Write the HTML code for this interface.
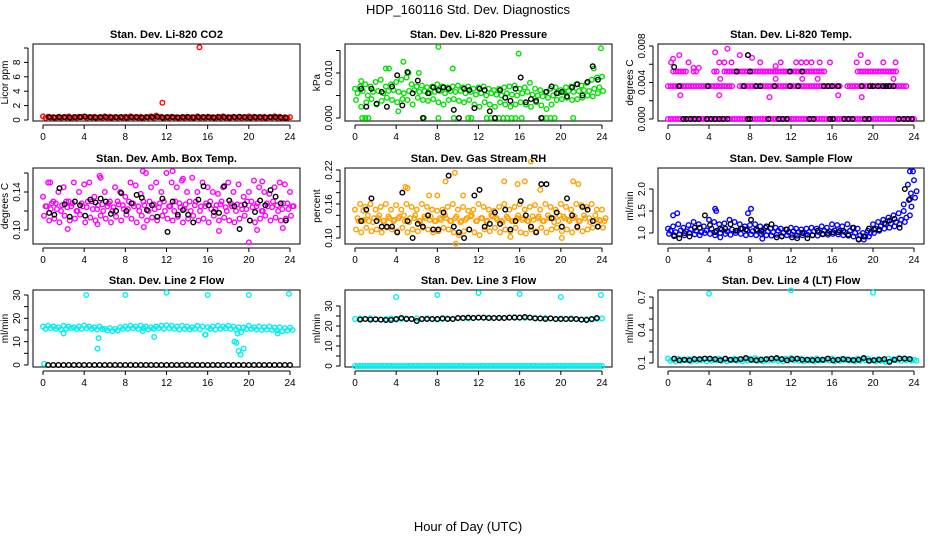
<!DOCTYPE html>
<html><head><meta charset="utf-8"><style>
body{margin:0;background:#fff;}
svg{display:block;font-family:"Liberation Sans",sans-serif;}
</style></head><body>
<svg id="c" width="936" height="540" viewBox="0 0 936 540">
<rect width="936" height="540" fill="#fff"/>
<text x="468" y="14" text-anchor="middle" font-size="13">HDP_160116  Std. Dev. Diagnostics</text>
<text x="468" y="531" text-anchor="middle" font-size="13">Hour of Day (UTC)</text>
</svg>
<script>
// ---------- data ----------
// CO2 panel
const co2RedA=[0.5,0.45,0.4,0.45,0.4,0.5,0.4,0.45,0.5,0.4,0.45,0.4,0.5,0.45,0.4,0.4,0.45,0.5,0.4,0.45,0.4,0.5,0.6,0.45,0.4,0.45,0.4,0.4,0.45,0.4,0.5,0.4,0.45,0.4,0.45,0.5,0.4,0.45,0.4,0.4,0.5,0.45,0.4,0.45,0.4,0.5,0.45,0.4,0.4];
const co2RedB=[0.3,0.35,0.3,0.3,0.35,0.3,0.3,0.4,0.3,0.35,0.3,0.3,0.3,0.35,0.3,0.3,0.3,0.35,0.3,0.3,0.35,0.3,0.4,0.3,0.3,0.35,0.3,0.3,0.3,0.35,0.3,0.3,0.35,0.3,0.3,0.3,0.35,0.3,0.3,0.3,0.35,0.3,0.3,0.3,0.35,0.3,0.3,0.3];
const co2OutHours=[11.6,15.2];
const co2OutVals=[2.4,10.1];
const co2Black=[0.4,0.35,0.4,0.4,0.35,0.4,0.4,0.45,0.4,0.35,0.4,0.4,0.35,0.4,0.4,0.35,0.4,0.4,0.35,0.4,0.4,0.45,0.35,0.4,0.4,0.35,0.4,0.4,0.35,0.4,0.4,0.4,0.35,0.4,0.4,0.35,0.4,0.45,0.4,0.35,0.4,0.4,0.35,0.4,0.4,0.35,0.3];
// Pressure panel
const presA=[0.0065,0.007,0.0075,0.007,0.008,0.0085,0.007,0.0075,0.008,0.0085,0.009,0.0075,0.007,0.0072,0.0068,0.007,0.0075,0.007,0.0068,0.007,0.0072,0.0068,0.007,0.0065,0.0068,0.007,0.0065,0.0062,0.0065,0.0068,0.007,0.0072,0.0065,0.0068,0.0078,0.0065,0.0062,0.0058,0.0065,0.0068,0.0062,0.0068,0.007,0.0075,0.0072,0.0078,0.0085,0.009,0.0092];
const presB=[0.0055,0.006,0.005,0.0058,0.006,0.0055,0.006,0.0062,0.0058,0.0055,0.006,0.0062,0.0058,0.006,0.0055,0.0058,0.006,0.0055,0.006,0.0058,0.006,0.0055,0.0058,0.0052,0.0055,0.005,0.0055,0.0052,0.005,0.0055,0.0052,0.005,0.0055,0.0058,0.0052,0.005,0.0048,0.0045,0.005,0.0055,0.0058,0.006,0.0058,0.006,0.0062,0.006,0.0065,0.0068];
const presC=[0.004,0.0025,0.0035,0.0042,0.003,0.0038,0.0045,0.004,0.0035,0.0042,0.004,0.003,0.0045,0.004,0.0038,0.0042,0.0035,0.003,0.004,0.0042,0.0038,0.0035,0.004,0.003,0.0025,0.0035,0.003,0.0025,0.0035,0.003,0.0025,0.003,0.0035,0.003,0.0025,0.0035,0.0028,0.002,0.003,0.004,0.0042,0.0045,0.004,0.0042,0.0045,0.005,0.0048,0.0055,0.006];
const presZeroHours=[0.7,1.0,1.3,6.7,8.1,9.6,11.0,11.3,12.8,13.2,13.6,14.0,14.4,14.8,15.2,15.6,16.2,18.2,18.6,19.0,19.4,21.2];
const presOutHours=[4.7,3.0,3.3,8.1,9.5,15.9,23.9,23.2,6.2,5.2,0.6,4.2];
const presOutVals=[0.0125,0.011,0.011,0.0158,0.011,0.0143,0.0155,0.011,0.0100,0.0100,0.0082,0.0015];
const presBlack=[0.0065,0.0025,0.0065,0.0032,0.0058,0.0025,0.007,0.0095,0.0028,0.0102,0.0055,0.0083,0,0.0055,0.0068,0.0062,0.0068,0.0065,0.0018,0,0.0065,0.0062,0.0022,0.0065,0.0062,0.0015,0,0.0062,0.0045,0.0038,0.0065,0.009,0.0035,0.0042,0.0038,0,0.0058,0.007,0.0055,0.0058,0.0048,0.0068,0.0075,0.005,0.008,0.0115,0.0085];
// Li-820 temp panel
const tmpZero=[0,0,0,0,0,0,0,0,0,0,0,0,0,0,0,0,0,0,0,0,0,0,0,0,0,0,0,0,0,0,0,0,0,0,0,0,0,0,0,0,0,0,0,0,0,0,0,0,0];
const tmpMid=[0.0036,0.0036,0.0036,0.0036,0.0036,0.0036,0.0036,0.0036,0.0036,0.0036,0.0036,0.0036,0.0036,null,0.0036,0.0036,0.0036,0.0036,0.0036,0.0036,0.0036,0.0036,0.0036,0.0036,0.0036,0.0036,0.0036,0.0036,0.0036,0.0036,0.0036,0.0036,0.0036,0.0036,null,0.0036,0.0036,0.0036,0.0036,0.0036,0.0036,0.0036,0.0036,0.0036,0.0036,0.0036,0.0036,null,null];
const tmpHigh=[null,0.0052,0.0052,0.0052,null,0.0052,null,null,null,0.0052,null,0.0052,0.0052,0.0052,0.0052,0.0052,0.0052,0.0052,0.0052,0.0052,0.0052,0.0052,0.0052,0.0052,0.0052,0.0052,0.0052,0.0052,0.0052,0.0052,0.0052,null,null,null,null,null,null,0.0052,0.0052,0.0052,0.0052,0.0052,0.0052,0.0052,0.0052,null,null,null,null];
const tmpOutHours=[0.3,0.5,1.1,2.0,2.5,3.0,4.6,5.0,5.5,5.8,6.2,7.0,7.8,8.2,9.0,10.5,11.0,12.5,13.0,13.5,14.0,14.8,15.8,18.4,18.8,19.5,21.0,22.2,1.2,5.0,9.9,16.6,18.9,5.1,10.5,13.1,14.6,22.0];
const tmpOutVals=[0.0062,0.0066,0.0070,0.0062,0.0056,0.0056,0.0073,0.0062,0.0062,0.0077,0.0062,0.0070,0.0070,0.0067,0.0062,0.0058,0.0062,0.0062,0.0062,0.0062,0.0062,0.0062,0.0062,0.0062,0.0070,0.0062,0.0062,0.0062,0.0026,0.0026,0.0024,0.0026,0.0024,0.0044,0.0044,0.0044,0.0044,0.0044];
const tmpBlackHours=[1.5,1.8,2.2,2.6,3.0,3.8,4.2,4.6,5.0,5.4,5.8,7.8,8.0,9.8,10.8,11.2,11.6,13.8,14.2,15.8,16.1,17.2,17.6,18.0,19.2,19.6,22.5,23.0,23.4,23.8,1.1,3.9,7.4,8.6,9.0,10.4,11.9,12.7,15.2,15.6,16.0,16.6,18.9,19.7,20.0,20.5,21.0,21.3,21.6,22.0,6.7,8.0,11.9,13.1,0.6,7.8];
const tmpBlackVals=[0,0,0,0,0,0,0,0,0,0,0,0,0,0,0,0,0,0,0,0,0,0,0,0,0,0,0,0,0,0,0.0036,0.0036,0.0036,0.0036,0.0036,0.0036,0.0036,0.0036,0.0036,0.0036,0.0036,0.0036,0.0036,0.0036,0.0036,0.0036,0.0036,0.0036,0.0036,0.0036,0.0052,0.0052,0.0052,0.0052,0.0057,0.0070];
// Amb box temp panel
const boxA=[0.135,0.15,0.13,0.14,0.145,0.13,0.15,0.14,0.148,0.15,0.135,0.157,0.14,0.13,0.145,0.14,0.135,0.15,0.147,0.138,0.16,0.145,0.15,0.14,0.16,0.15,0.145,0.152,0.14,0.155,0.14,0.15,0.145,0.14,0.138,0.145,0.15,0.14,0.148,0.135,0.14,0.152,0.145,0.14,0.138,0.145,0.15,0.148,0.14];
const boxB=[0.125,0.122,0.128,0.12,0.13,0.125,0.12,0.128,0.124,0.13,0.122,0.127,0.125,0.12,0.13,0.126,0.122,0.128,0.125,0.13,0.12,0.127,0.124,0.13,0.125,0.12,0.128,0.122,0.13,0.126,0.12,0.125,0.13,0.122,0.127,0.124,0.128,0.12,0.126,0.122,0.13,0.125,0.12,0.128,0.124,0.126,0.122,0.128,0.125];
const boxC=[0.115,0.11,0.112,0.108,0.115,0.11,0.112,0.116,0.108,0.113,0.11,0.115,0.112,0.108,0.114,0.11,0.116,0.112,0.108,0.115,0.11,0.113,0.11,0.115,0.112,0.11,0.114,0.108,0.112,0.115,0.11,0.112,0.108,0.115,0.11,0.113,0.11,0.108,0.112,0.115,0.11,0.108,0.112,0.115,0.11,0.113,0.11,0.112,0.115];
const boxOutHours=[2.4,5.3,9.8,12.6,9.7,20.0,17.1,20.8,23.3,13.6,5.6,0.7,21.3];
const boxOutVals=[0.101,0.106,0.103,0.162,0.162,0.087,0.099,0.100,0.102,0.154,0.155,0.150,0.151];
const boxBlack=[0.118,0.116,0.144,0.127,0.114,0.130,0.126,0.115,0.132,0.129,0.133,0.130,0.117,0.120,0.139,0.120,0.128,0.137,0.134,0.121,0.126,0.114,0.133,0.098,0.130,0.116,0.121,0.116,0.108,0.132,0.146,0.126,0.119,0.118,0.146,0.131,0.125,0.101,0.127,0.110,0.119,0.131,0.126,0.142,0.135,0.128,0.110];
// Gas stream RH panel
const rhA=[0.15,0.16,0.155,0.16,0.15,0.155,0.16,0.15,0.158,0.15,0.16,0.155,0.15,0.16,0.155,0.15,0.148,0.15,0.155,0.16,0.15,0.155,0.148,0.15,0.16,0.155,0.15,0.148,0.155,0.16,0.15,0.155,0.16,0.15,0.155,0.158,0.15,0.16,0.155,0.15,0.16,0.155,0.15,0.16,0.158,0.155,0.16,0.15,0.15];
const rhB=[0.135,0.13,0.14,0.128,0.135,0.13,0.138,0.13,0.135,0.14,0.128,0.135,0.13,0.138,0.132,0.13,0.135,0.14,0.13,0.135,0.128,0.132,0.138,0.13,0.135,0.13,0.14,0.135,0.13,0.138,0.13,0.135,0.132,0.13,0.138,0.135,0.13,0.14,0.135,0.13,0.138,0.132,0.135,0.13,0.14,0.135,0.13,0.132,0.13];
const rhC=[0.115,0.11,0.118,0.112,0.115,0.11,0.118,0.115,0.112,0.118,0.11,0.115,0.112,0.118,0.115,0.11,0.112,0.118,0.115,0.11,0.105,0.112,0.115,0.11,0.105,0.115,0.112,0.118,0.11,0.115,0.112,0.118,0.11,0.108,0.115,0.112,0.118,0.11,0.115,0.118,0.112,0.115,0.11,0.118,0.112,0.115,0.118,0.12,0.118];
const rhOutHours=[17.1,9.7,8.8,4.9,5.1,18.0,21.2,21.7,14.5,15.8,16.5,8.0,10.5,1.5,0.8,9.8,20.1,15.1,7.2];
const rhOutVals=[0.235,0.215,0.200,0.190,0.188,0.185,0.200,0.195,0.200,0.195,0.200,0.175,0.175,0.160,0.148,0.090,0.100,0.102,0.175];
const rhBlack=[0.13,0.15,0.17,0.13,0.12,0.12,0.12,0.11,0.18,0.13,0.10,0.125,0.12,0.14,0.115,0.115,0.145,0.21,0.12,0.11,0.10,0.115,0.175,0.185,0.12,0.125,0.145,0.125,0.15,0.115,0.13,0.165,0.14,0.12,0.11,0.195,0.195,0.135,0.145,0.12,0.17,0.14,0.12,0.155,0.15,0.13,0.12];
// Sample flow panel
const flowA=[1.1,1.15,1.2,1.12,1.18,1.25,1.2,1.15,1.3,1.25,1.2,1.22,1.3,1.25,1.2,1.15,1.18,1.2,1.15,1.12,1.1,1.12,1.1,1.08,1.12,1.1,1.08,1.1,1.12,1.1,1.15,1.12,1.2,1.18,1.15,1.2,1.12,1.1,1.0,1.05,1.2,1.25,1.3,1.35,1.4,1.45,1.5,1.75,2.2];
const flowB=[1.05,1.02,1.06,1.04,1.08,1.05,1.02,1.06,1.1,1.05,1.08,1.04,1.08,1.05,1.1,1.06,1.04,1.06,1.02,1.04,1.02,1.05,1.0,1.02,1.04,1.02,1.0,1.02,1.04,1.02,1.05,1.04,1.06,1.05,1.02,1.05,1.0,0.95,0.92,1.0,1.1,1.15,1.2,1.22,1.25,1.3,1.35,1.6,1.95];
const flowC=[0.98,0.95,0.97,0.95,1.0,0.97,0.95,1.0,0.98,0.95,1.0,0.98,0.96,1.0,0.98,0.95,0.97,0.95,0.98,0.95,0.94,0.96,0.93,0.95,0.96,0.94,0.95,0.96,0.95,0.94,0.97,0.96,0.98,0.97,0.95,0.97,0.92,0.86,0.85,0.92,1.0,1.05,1.1,1.12,1.15,1.2,1.25,1.4,1.8];
const flowOutHours=[0.5,0.9,4.6,4.7,7.8,8.1,23.6,23.9,23.4,23.7,9.2,5.1,23.0];
const flowOutVals=[1.40,1.45,1.55,1.50,1.45,1.55,2.40,2.40,2.10,1.90,0.87,0.90,1.65];
const flowBlack=[0.93,0.88,1.0,0.92,1.12,1.12,1.40,1.18,1.02,1.10,1.10,1.20,1.05,1.10,1.08,1.30,1.08,1.05,1.15,1.20,0.90,0.92,1.08,0.90,0.88,1.00,0.88,0.95,1.05,0.98,1.00,1.02,1.02,1.05,0.94,1.12,0.85,0.92,1.10,1.08,1.08,1.22,1.28,1.32,1.12,2.00,1.77];
// Line 2 flow panel
const l2A=[16.5,16.8,16.5,16.2,16.8,16.5,16.2,16.5,17,16.5,16.2,16.5,15.5,15.8,15.5,16.2,16.5,16.8,16.5,16.8,16.5,16.2,16.5,16.8,17,16.8,16.5,16.8,16.5,16.2,16.8,16.5,16.2,16.5,16.8,16.5,16.8,16.5,16.2,16,16.8,16.2,16.5,16.2,16.5,16,16.2,15.8,16];
const l2B=[15.5,15.8,15.5,15.2,15.5,15.8,15.5,15.5,15.8,15.5,15.2,15.5,14.8,14.5,14.8,15.5,15.5,15.8,15.5,15.8,15.2,15.5,15.8,15.5,15.8,15.5,15.2,15.5,15.2,15.5,15.2,13,15.5,15.2,15.5,15.8,15.5,15.2,14,15.5,15.5,15.2,15,15.2,15,14.8,14.5,14.8,15];
const l2OutHours=[4.2,5.3,5.4,8.0,10.8,12.0,16.0,15.8,18.6,18.8,19.0,19.2,19.5,18.9,20.0,23.9,0.1,2.0,9.7,22.8];
const l2OutVals=[30,7,11.5,30,12,31,30,13,10,9.5,6,4.5,7,13.5,30,30.5,0.5,13.5,14.5,13.5];
const l2Black=[0,0,0,0,0,0,0,0,0,0,0,0,0,0,0,0,0,0,0,0,0,0,0,0,0,0,0,0,0,0,0,0,0,0,0,0,0,0,0,0,0,0,0,0,0,0,0,0];
// Line 3 flow panel
const l3Zero=[0,0,0,0,0,0,0,0,0,0,0,0,0,0,0,0,0,0,0,0,0,0,0,0,0,0,0,0,0,0,0,0,0,0,0,0,0,0,0,0,0,0,0,0,0,0,0,0,0];
const l3Cyan=[23.5,23.8,23.5,23.8,23.5,23.2,23.5,23.8,23.2,23.5,23.8,23.5,23.8,23.5,23.8,23.5,23.2,23.5,23.8,23.5,23.8,24,23.8,24,24.2,24,24.2,24,24.2,24,24.2,24.5,24.2,24,24.2,24,23.8,24,23.8,23.5,23.8,23.5,23.8,23.5,23.2,23.5,23.2,23.5,23.8];
const l3OutHours=[4.0,8.0,12.0,16.0,20.0,23.9];
const l3OutVals=[34.5,35.5,36.5,36,34.5,35.5];
const l3Black=[23.2,23.5,23.2,23.3,23.2,23,23,23.5,24,23.5,23.5,22.5,23.5,23.5,23.5,23.5,23.8,23.5,23.5,24,24,24.2,24,24.2,24.2,24,24,24,24,24.2,24.2,24.2,24.5,24.2,23.8,23.8,23.5,23.8,23.5,23.5,23.5,23.5,23.5,23.2,23,23.5,24];
// Line 4 flow panel
const l4A=[0.14,0.13,0.14,0.13,0.135,0.14,0.13,0.14,0.135,0.13,0.14,0.135,0.13,0.14,0.135,0.13,0.14,0.145,0.135,0.13,0.14,0.135,0.13,0.14,0.145,0.135,0.14,0.13,0.135,0.14,0.13,0.135,0.14,0.13,0.14,0.135,0.13,0.14,0.135,0.14,0.13,0.135,0.12,0.14,0.135,0.145,0.14,0.135,0.13];
const l4B=[0.12,0.115,0.12,0.125,0.115,0.12,0.125,0.115,0.12,0.125,0.12,0.115,0.125,0.12,0.115,0.12,0.125,0.12,0.115,0.12,0.125,0.12,0.115,0.12,0.125,0.12,0.115,0.12,0.115,0.12,0.125,0.12,0.115,0.12,0.125,0.12,0.115,0.12,0.125,0.12,0.115,0.12,0.11,0.12,0.125,0.12,0.125,0.12,0.12];
const l4OutHours=[4.0,12.0,20.0];
const l4OutVals=[0.73,0.76,0.74];
const l4Black=[0.14,0.125,0.13,0.125,0.135,0.135,0.14,0.14,0.135,0.125,0.14,0.13,0.13,0.135,0.145,0.13,0.125,0.13,0.135,0.14,0.145,0.135,0.125,0.135,0.14,0.13,0.13,0.125,0.13,0.13,0.14,0.125,0.13,0.135,0.13,0.125,0.13,0.145,0.12,0.125,0.13,0.135,0.11,0.13,0.14,0.14,0.135];
const hourTicks=[0,4,8,12,16,20,24];

// ---------- layout ----------
const NS='http://www.w3.org/2000/svg';
const svg=document.getElementById('c');
function el(tag,attrs,parent){const e=document.createElementNS(NS,tag);for(const k in attrs)e.setAttribute(k,attrs[k]);(parent||svg).appendChild(e);return e;}
const cols=[{bx0:33,bx1:300,t0:43,t24:290},{bx0:345,bx1:612,t0:355,t24:602},{bx0:658,bx1:924,t0:668,t24:914}];
const rows=[{by0:44,by1:121},{by0:168,by1:244},{by0:290,by1:367}];
const panels=[
 {key:'co2',title:'Stan. Dev. Li-820 CO2',ylab:'Licor ppm',c:0,r:0,v1:0,p1:120,v2:10,p2:48,ticks:[0,2,4,6,8,10],labels:['0','2','4','6','8','']},
 {key:'pressure',title:'Stan. Dev. Li-820 Pressure',ylab:'kPa',c:1,r:0,v1:0,p1:118,v2:0.010,p2:73,ticks:[0,0.005,0.010,0.015],labels:['0.000','','0.010','']},
 {key:'li820-temp',title:'Stan. Dev. Li-820 Temp.',ylab:'degrees C',c:2,r:0,v1:0,p1:119,v2:0.008,p2:46,ticks:[0,0.002,0.004,0.006,0.008],labels:['0.000','','0.004','','0.008']},
 {key:'box-temp',title:'Stan. Dev. Amb. Box Temp.',ylab:'degrees C',c:0,r:1,v1:0.10,p1:230,v2:0.14,p2:192,ticks:[0.10,0.12,0.14,0.16],labels:['0.10','','0.14','']},
 {key:'rh',title:'Stan. Dev. Gas Stream RH',ylab:'percent',c:1,r:1,v1:0.10,p1:238,v2:0.22,p2:170,ticks:[0.10,0.12,0.14,0.16,0.18,0.20,0.22],labels:['0.10','','','0.16','','','0.22']},
 {key:'sample-flow',title:'Stan. Dev. Sample Flow',ylab:'ml/min',c:2,r:1,v1:1.0,p1:233,v2:2.0,p2:189,ticks:[1.0,1.5,2.0],labels:['1.0','1.5','2.0']},
 {key:'line2',title:'Stan. Dev. Line 2 Flow',ylab:'ml/min',c:0,r:2,v1:0,p1:365,v2:30,p2:295,ticks:[0,5,10,15,20,25,30],labels:['0','','10','','20','','30']},
 {key:'line3',title:'Stan. Dev. Line 3 Flow',ylab:'ml/min',c:1,r:2,v1:0,p1:366,v2:30,p2:306,ticks:[0,5,10,15,20,25,30],labels:['0','','10','','20','','30']},
 {key:'line4',title:'Stan. Dev. Line 4 (LT) Flow',ylab:'ml/min',c:2,r:2,v1:0.1,p1:363,v2:0.7,p2:297,ticks:[0.1,0.2,0.3,0.4,0.5,0.6,0.7],labels:['0.1','','','0.4','','','0.7']}
];
const G={};
panels.forEach(p=>{
 const C=cols[p.c],R=rows[p.r];
 p.X=t=>C.t0+t*(C.t24-C.t0)/24;
 p.Y=v=>p.p1+(v-p.v1)*(p.p2-p.p1)/(p.v2-p.v1);
 const g=el('g',{});
 
 
 G[p.key]={p:p,g:g,C:C,R:R};
 const t=el('text',{x:(C.bx0+C.bx1)/2,y:R.by0-6,'text-anchor':'middle','font-size':11,'font-weight':'bold'},g);
 t.textContent=p.title;
 
 
 // y axis
 const ya=el('g',{},g);
 
 
 const yTop=p.Y(p.ticks[p.ticks.length-1]),yBot=p.Y(p.ticks[0]);
 el('line',{x1:C.bx0-5,x2:C.bx0-5,y1:yTop,y2:yBot,stroke:'#000','stroke-width':1},ya);
 p.ticks.forEach((v,i)=>{
  const y=p.Y(v);
  el('line',{x1:C.bx0-9,x2:C.bx0-5,y1:y,y2:y,stroke:'#000','stroke-width':1},ya);
  if(p.labels[i]){const tx=el('text',{x:C.bx0-13,y:y,'text-anchor':'middle','font-size':10,transform:`rotate(-90 ${C.bx0-13} ${y})`},ya);tx.textContent=p.labels[i];}
 });
 const yl=el('text',{x:C.bx0-25,y:(R.by0+R.by1)/2,'text-anchor':'middle','font-size':10,transform:`rotate(-90 ${C.bx0-25} ${(R.by0+R.by1)/2})`},g);
 yl.textContent=p.ylab;
 
 
 // x axis
 const xa=el('g',{},g);
 
 
 el('line',{x1:p.X(0),x2:p.X(24),y1:R.by1+4,y2:R.by1+4,stroke:'#000','stroke-width':1},xa);
 hourTicks.forEach(h=>{
  const x=p.X(h);
  el('line',{x1:x,x2:x,y1:R.by1+4,y2:R.by1+8,stroke:'#000','stroke-width':1},xa);
  const tx=el('text',{x:x,y:R.by1+19,'text-anchor':'middle','font-size':10},xa);tx.textContent=String(h);
 });
 const box=el('rect',{x:C.bx0,y:R.by0,width:C.bx1-C.bx0,height:R.by1-R.by0,fill:'none',stroke:'#000','stroke-width':1},g);
 
 
});

function drawPts(key,hours,vals,color,name){
 const P=G[key],p=P.p;
 const g=el('g',{fill:'none',stroke:color,'stroke-width':1.4},P.g);
 
 
 vals.forEach((v,i)=>{
  if(v===null||v===undefined||hours[i]===undefined)return;
  const c=el('circle',{cx:p.X(hours[i]),cy:p.Y(v),r:2.3},g);
  
  
 });
}
// regular sampling times for half-hourly series
function hoursFrom(start,n){const a=[];for(let i=0;i<n;i++)a.push(start+i*0.5);return a;}
function grid(key,start,vals,color,name){drawPts(key,hoursFrom(start,vals.length),vals,color,name);}

// CO2
grid('co2',0,co2RedA,'#ff0000','co2-red-a');grid('co2',0.25,co2RedB,'#ff0000','co2-red-b');
drawPts('co2',co2OutHours,co2OutVals,'#ff0000','co2-outliers');
grid('co2',0.6,co2Black,'#000','co2-black');
// Pressure
const GR='#00e000';
grid('pressure',0,presA,GR,'pressure-a');grid('pressure',0.25,presB,GR,'pressure-b');grid('pressure',0.1,presC,GR,'pressure-c');
drawPts('pressure',presZeroHours,presZeroHours.map(()=>0),GR,'pressure-zeros');
drawPts('pressure',presOutHours,presOutVals,GR,'pressure-outliers');
grid('pressure',0.6,presBlack,'#000','pressure-black');
// Li-820 temp
const MG='#ff00ff';
grid('li820-temp',0,tmpZero,MG,'temp-zero-a');grid('li820-temp',0.25,tmpZero.slice(0,48),MG,'temp-zero-b');
grid('li820-temp',0,tmpMid,MG,'temp-mid-a');grid('li820-temp',0.25,tmpMid.slice(0,48),MG,'temp-mid-b');
grid('li820-temp',0,tmpHigh,MG,'temp-high-a');grid('li820-temp',0.25,tmpHigh.slice(0,48),MG,'temp-high-b');
drawPts('li820-temp',tmpOutHours,tmpOutVals,MG,'temp-outliers');
drawPts('li820-temp',tmpBlackHours,tmpBlackVals,'#000','temp-black');
// Box temp
grid('box-temp',0,boxA,MG,'box-a');grid('box-temp',0.25,boxB,MG,'box-b');grid('box-temp',0.1,boxC,MG,'box-c');
grid('box-temp',0.35,boxB.slice().reverse(),MG,'box-d');
drawPts('box-temp',boxOutHours,boxOutVals,MG,'box-outliers');
grid('box-temp',0.6,boxBlack,'#000','box-black');
// RH
const OR='#ffa000';
grid('rh',0,rhA,OR,'rh-a');grid('rh',0.25,rhB,OR,'rh-b');grid('rh',0.1,rhC,OR,'rh-c');grid('rh',0.35,rhB.slice().reverse(),OR,'rh-d');
drawPts('rh',rhOutHours,rhOutVals,OR,'rh-outliers');
grid('rh',0.6,rhBlack,'#000','rh-black');
// Sample flow
const BL='#0000ff';
grid('sample-flow',0,flowA,BL,'flow-a');grid('sample-flow',0.25,flowB,BL,'flow-b');grid('sample-flow',0.1,flowC,BL,'flow-c');
drawPts('sample-flow',flowOutHours,flowOutVals,BL,'flow-outliers');
grid('sample-flow',0.6,flowBlack,'#000','flow-black');
// Line 2
const CY='#00f0f0';
grid('line2',0,l2A,CY,'line2-a');grid('line2',0.25,l2B,CY,'line2-b');
drawPts('line2',l2OutHours,l2OutVals,CY,'line2-outliers');
grid('line2',0.5,l2Black,'#000','line2-black');
// Line 3
grid('line3',0,l3Zero,CY,'line3-zero-a');grid('line3',0.25,l3Zero.slice(0,48),CY,'line3-zero-b');
grid('line3',0,l3Cyan,CY,'line3-a');
drawPts('line3',l3OutHours,l3OutVals,CY,'line3-outliers');
grid('line3',0.5,l3Black,'#000','line3-black');
// Line 4
grid('line4',0,l4A,CY,'line4-a');grid('line4',0.25,l4B,CY,'line4-b');
drawPts('line4',l4OutHours,l4OutVals,CY,'line4-outliers');
grid('line4',0.6,l4Black,'#000','line4-black');
</script>
</body></html>
